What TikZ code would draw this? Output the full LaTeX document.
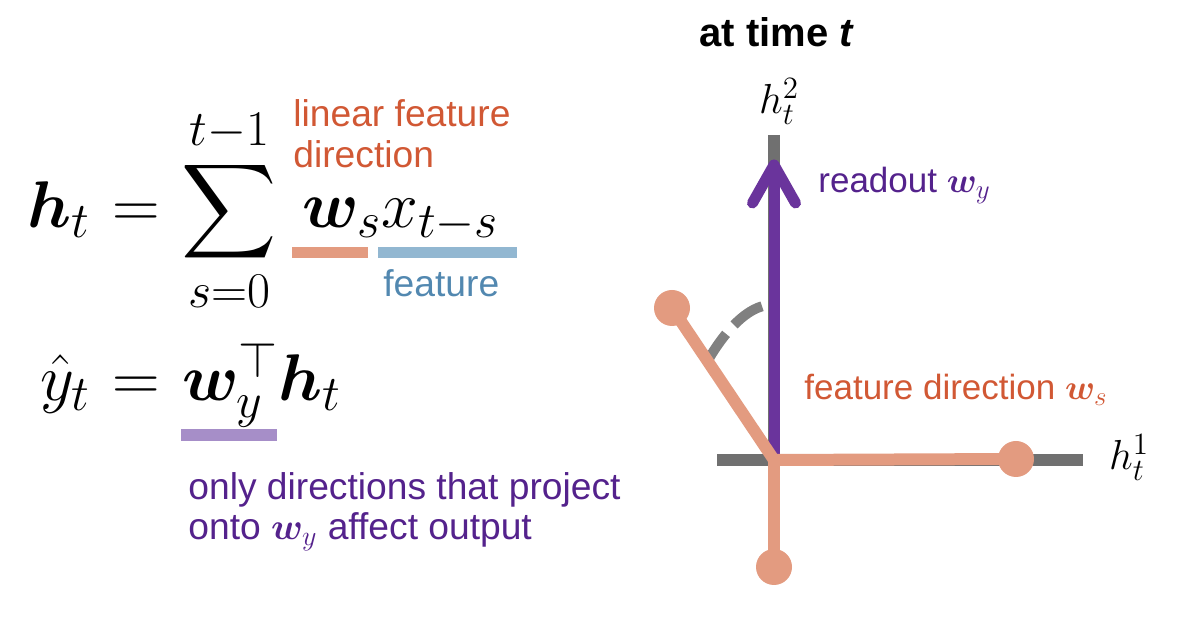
\RequirePackage{fix-cm}
\documentclass[tikz,border=0pt]{standalone}
\usepackage{amsmath}
\usepackage{bm}
\usepackage{fontspec}
\DeclareFontShape{OMX}{cmex}{m}{n}{<->cmex10}{}
\DeclareMathSizes{33}{33}{25}{19}
\DeclareMathSizes{21}{21}{15.5}{12}
\DeclareMathSizes{17.5}{17.5}{13.5}{10}
\DeclareMathSizes{18.6}{18.6}{14}{10.5}
\newfontfamily\sansf{Liberation Sans}
\definecolor{orangetxt}{RGB}{209,88,52}
\definecolor{peach}{RGB}{227,155,128}
\definecolor{bluebar}{RGB}{146,183,209}
\definecolor{bluetxt}{RGB}{82,136,176}
\definecolor{purplebar}{RGB}{166,142,200}
\definecolor{purpletxt}{RGB}{84,34,140}
\definecolor{purplearr}{RGB}{106,52,156}
\definecolor{axisgray}{RGB}{112,112,112}
\definecolor{arcgray}{RGB}{128,128,128}
\begin{document}
\begin{tikzpicture}[x=0.5pt,y=-0.5pt,
  eqtext/.style={anchor=base west, inner sep=0pt, font=\fontsize{33}{40}\selectfont},
  lbl/.style={anchor=base west, inner sep=0pt, font=\sansf\fontsize{18.6}{22}\selectfont},
  rlbl/.style={anchor=base west, inner sep=0pt, font=\sansf\fontsize{17.5}{21}\selectfont},
  axisline/.style={axisgray, line width=6pt},
  vecline/.style={peach, line width=6pt},
  readline/.style={purplearr, line width=5.5pt},
  dot/.style={circle, fill=peach, minimum size=18pt, inner sep=0pt},
  axlabel/.style={anchor=base, inner sep=0pt, font=\fontsize{21}{25}\selectfont}]
\useasboundingbox (0,0) rectangle (1200,619);

% ---- left: equations ----
\node[eqtext] (eq1) at (27,228) {\thickmuskip=6mu$\displaystyle \bm{h}_t = \sum_{s=0}^{t-1} \mkern4mu \bm{w}_s x_{t-s}$};
\node[eqtext] (eq2) at (40,401) {\thickmuskip=6mu$\hat{y}_t = \bm{w}_y^{\top}\bm{h}_t$};

\fill[peach] (291.7,246.7) rectangle (368.3,258.3);
\fill[bluebar] (377.7,246.7) rectangle (516.7,258.3);
\fill[purplebar] (181,429.3) rectangle (277.3,441);

\node[lbl, text=orangetxt] (lf1) at (293,126.7) {linear feature};
\node[lbl, text=orangetxt] (lf2) at (293,168) {direction};
\node[lbl, text=bluetxt] (feat) at (383,296.7) {feature};
\node[lbl, text=purpletxt] (on1) at (188,500) {only directions that project};
\node[lbl, text=purpletxt] (on2) at (188,540) {onto $\bm{w}_y$ affect output};

% ---- right: vector plot ----
\node[anchor=base, inner sep=0pt, font=\sansf\bfseries\fontsize{20}{24}\selectfont] (title) at (777,47) {at time \textit{t}};

\coordinate (O) at (774,460);
\coordinate (xl) at (717,460);
\coordinate (xr) at (1083,460);
\coordinate (yt) at (774,135);
\coordinate (tip) at (774,165);
\coordinate (wl) at (752.5,203);
\coordinate (wr) at (795.5,203);
\coordinate (p1) at (1016,459);
\coordinate (p2) at (774,567);
\coordinate (p3) at (672,308);
\coordinate (a1) at (707,362);
\coordinate (a2) at (771,305);

\draw[axisline] (xl) -- (xr);
\draw[axisline] (yt) -- (O);
\draw[readline] (O) -- (tip);
\draw[readline, line cap=round, line join=round] (wl) -- (tip) -- (wr);
\draw[arcgray, line width=5pt, dash pattern=on 17pt off 6pt] (a1) .. controls (724,332) and (748,305) .. (a2);
\draw[vecline] (O) -- (p1);
\draw[vecline] (O) -- (p2);
\draw[vecline] (O) -- (p3);
\node[dot] (d1) at (p1) {};
\node[dot] (d2) at (p2) {};
\node[dot] (d3) at (p3) {};

\node[axlabel] (h2) at (779,114) {$h_t^2$};
\node[axlabel] (h1) at (1129,470) {$h_t^1$};
\node[rlbl, text=purpletxt] (ro) at (818,193) {readout $\bm{w}_y$};
\node[rlbl, text=orangetxt] (fd) at (804,400) {feature direction $\bm{w}_s$};
\end{tikzpicture}
\end{document}
